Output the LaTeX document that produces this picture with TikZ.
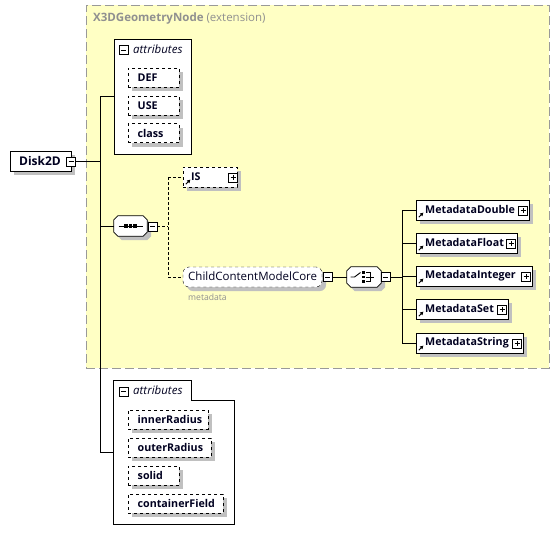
\documentclass[tikz,border=0pt]{standalone}
\usepackage{fontspec}
\setmainfont{Open Sans}
\usetikzlibrary{shadows,calc,arrows.meta}
\definecolor{extfill}{HTML}{FFFFC4}
\definecolor{extborder}{HTML}{999999}
\definecolor{shade}{HTML}{C0C0C0}
\definecolor{ink}{HTML}{000020}
\definecolor{graytext}{HTML}{909090}
\tikzset{
  shd/.style={drop shadow={shadow xshift=4pt, shadow yshift=-4pt, fill=shade, opacity=1}},
  elbox/.style={draw, fill=white, rectangle, inner sep=0pt, minimum height=20pt, shd},
  attbox/.style={elbox, dashed},
  lbl/.style={anchor=west, inner sep=0pt, font=\fontsize{10.7}{13}\selectfont\bfseries, text=ink},
  ital/.style={anchor=west, inner sep=0pt, font=\fontsize{11.5}{13}\selectfont\itshape, text=ink},
  btn/.style={draw, fill=white, rectangle, minimum size=9pt, inner sep=0pt,
    path picture={\draw[line width=0.9pt] ($(path picture bounding box.west)+(2pt,0)$) -- ($(path picture bounding box.east)+(-2pt,0)$);}},
  plusbtn/.style={btn, path picture={
    \draw[line width=0.9pt] ($(path picture bounding box.west)+(2pt,0)$) -- ($(path picture bounding box.east)+(-2pt,0)$);
    \draw[line width=0.9pt] ($(path picture bounding box.north)+(0,-2pt)$) -- ($(path picture bounding box.south)+(0,2pt)$);}},
  grp/.style={inner sep=0pt, minimum width=33pt, minimum height=20pt},
  grpline/.style={draw, fill=white, line width=0.8pt, shd},
  wire/.style={draw, line width=0.8pt},
  dwire/.style={draw, line width=0.8pt, dash pattern=on 3pt off 2pt},
  refarrow/.style={-{Triangle[length=3.2pt,width=3.6pt]}, line width=0.9pt},
}
\begin{document}
\begin{tikzpicture}[x=1pt,y=-1pt]
\useasboundingbox (0,0) rectangle (560,544);
% extension area
\node[draw=extborder, fill=extfill, dash pattern=on 9pt off 4pt, line width=0.8pt, rectangle, minimum width=463pt, minimum height=363pt, inner sep=0pt] (ext) at (317.5,186.5) {};
\node[anchor=west, inner sep=0pt, text=graytext, font=\fontsize{11.5}{13}\selectfont] (exttitle) at (93,19) {\textbf{X3DGeometryNode} (extension)};

% Disk2D
\node[elbox, minimum width=61pt] (disk) at (40.5,161) {};
\node[lbl, font=\fontsize{12}{14}\selectfont\bfseries] (disklbl) at (19,161) {Disk2D};
\node[btn] (diskbtn) at (71,161.5) {};
\coordinate (trunk) at (100,0);

% top attributes group
\node[draw, fill=white, rectangle, inner sep=0pt, minimum width=77pt, minimum height=115pt, line width=0.8pt] (g1) at (152.5,96.5) {};
\node[btn] (g1btn) at (123.5,50) {};
\node[ital] (g1lbl) at (133,49) {attributes};
\node[attbox, minimum width=51pt, minimum height=19pt] (def) at (153.5,77.5) {};
\node[lbl] (deflbl) at (137.5,77.5) {DEF};
\node[attbox, minimum width=51pt, minimum height=19pt] (use) at (153.5,105.5) {};
\node[lbl] (uselbl) at (137.5,105.5) {USE};
\node[attbox, minimum width=51pt, minimum height=19pt] (cls) at (153.5,133) {};
\node[lbl] (clslbl) at (137.5,133) {class};

% sequence
\node[grp] (seq) at (130.5,226) {};
\path[grpline] ($(seq.north west)+(4,0)$) -- ($(seq.north east)+(-4,0)$) -- ($(seq.north east)+(0,4)$) -- ($(seq.south east)+(0,-4)$) -- ($(seq.south east)+(-4,0)$) -- ($(seq.south west)+(4,0)$) -- ($(seq.south west)+(0,-4)$) -- ($(seq.north west)+(0,4)$) -- cycle;
\draw[line width=0.9pt] ($(seq.center)+(-12,0)$) -- ($(seq.center)+(12,0)$);
\foreach \dx in {-4.5,0,4.5}{
  \fill ($(seq.center)+(\dx,0)+(-1.6,-1.6)$) rectangle ++(3.2,3.2);
}
\node[btn] (seqbtn) at (152.5,226.5) {};
\coordinate (seqtrunk) at (168,0);

% IS
\node[attbox, minimum width=54pt] (is) at (210,177) {};
\node[lbl] (islbl) at (191,176.5) {IS};
\node[plusbtn] (isbtn) at (233,177.5) {};
\draw[refarrow] ($(is.south west)+(3,-3)$) -- ++(4.5,-4.5);

% ChildContentModelCore
\node[draw, dashed, fill=white, rounded corners=6pt, rectangle, inner sep=0pt, minimum width=139pt, minimum height=20pt, shd] (ccmc) at (252.5,277) {};
\node[anchor=west, inner sep=0pt, font=\fontsize{11.5}{13}\selectfont, text=ink] (ccmclbl) at (188,276.5) {ChildContentModelCore};
\node[btn] (ccmcbtn) at (327.5,277) {};
\node[anchor=west, inner sep=0pt, text=graytext, font=\fontsize{8.6}{10}\selectfont] (metalbl) at (188,297) {metadata};

% choice
\node[grp, minimum width=34pt] (choice) at (364,277) {};
\path[grpline] ($(choice.north west)+(4,0)$) -- ($(choice.north east)+(-4,0)$) -- ($(choice.north east)+(0,4)$) -- ($(choice.south east)+(0,-4)$) -- ($(choice.south east)+(-4,0)$) -- ($(choice.south west)+(4,0)$) -- ($(choice.south west)+(0,-4)$) -- ($(choice.north west)+(0,4)$) -- cycle;
\draw[line width=0.9pt] (350.5,277) -- (354.5,277) -- (360.5,272.5);
\foreach \dy in {-4.5,0,4.5}{
  \fill ($(363.3,277)+(0,\dy)+(-1.3,-1.3)$) rectangle ++(2.6,2.6);
}
\draw[line width=0.9pt] (366,272.5) -- (370.5,272.5) -- (370.5,281.5) -- (366,281.5);
\draw[line width=0.9pt] (366,277) -- (373.5,277);
\node[btn] (choicebtn) at (385.5,277) {};
\coordinate (chtrunk) at (402,0);

% Metadata elements
\foreach \n/\lab/\r/\yy in {md/MetadataDouble/529/210, mf/MetadataFloat/517/243, mi/MetadataInteger/532/276, ms/MetadataSet/508/309, mstr/MetadataString/523/343}{
  \node[elbox, minimum width={\r-416}] (\n) at ({(416+\r)/2},\yy) {};
  \node[lbl] (\n lbl) at (425,\yy-0.5) {\lab};
  \node[plusbtn] (\n btn) at (\r-6,\yy+0.5) {};
  \draw[refarrow] ($(\n.south west)+(3,-3)$) -- ++(4.5,-4.5);
}

% bottom attributes group
\node[inner sep=0pt, minimum width=120pt, minimum height=143pt] (g2) at (174,452.5) {};
\draw[line width=0.8pt, fill=white] (g2.north west) -- (g2.north west -| 191,0) -- (191,400) -- (g2.east |- 0,400) -- (g2.south east) -- (g2.south west) -- cycle;
\node[btn] (g2btn) at (123.5,391.5) {};
\node[ital] (g2lbl) at (133,390.5) {attributes};
\foreach \n/\lab/\r/\yy in {ir/innerRadius/208/419.5, orr/outerRadius/211/447.5, so/solid/179/475.5, cf/containerField/223/503.5}{
  \node[attbox, minimum width={\r-128}, minimum height=19pt] (\n) at ({(128+\r)/2},\yy) {};
  \node[lbl] (\n lbl) at (137.5,\yy) {\lab};
}

% connectors
\draw[wire] (diskbtn.east) -- (diskbtn.east -| trunk);
\draw[wire] (trunk |- g1.west) -- (trunk |- g2.west);
\draw[wire] (trunk |- g1.west) -- (g1.west);
\draw[wire] (trunk |- seq.west) -- (seq.west);
\draw[wire] (trunk |- g2.west) -- (g2.west);
\draw[dwire] (seqbtn.east) -- (seqbtn.east -| seqtrunk);
\draw[dwire] (seqtrunk |- is.west) -- (seqtrunk |- ccmc.west);
\draw[dwire] (seqtrunk |- is.west) -- (is.west);
\draw[dwire] (seqtrunk |- ccmc.west) -- (ccmc.west);
\draw[wire] (ccmcbtn.east) -- (choice.west);
\draw[wire] (choicebtn.east) -- (choicebtn.east -| chtrunk);
\draw[wire] (chtrunk |- md.west) -- (chtrunk |- mstr.west);
\foreach \n in {md,mf,mi,ms,mstr}{
  \draw[wire] (chtrunk |- \n.west) -- (\n.west);
}
\end{tikzpicture}
\end{document}
